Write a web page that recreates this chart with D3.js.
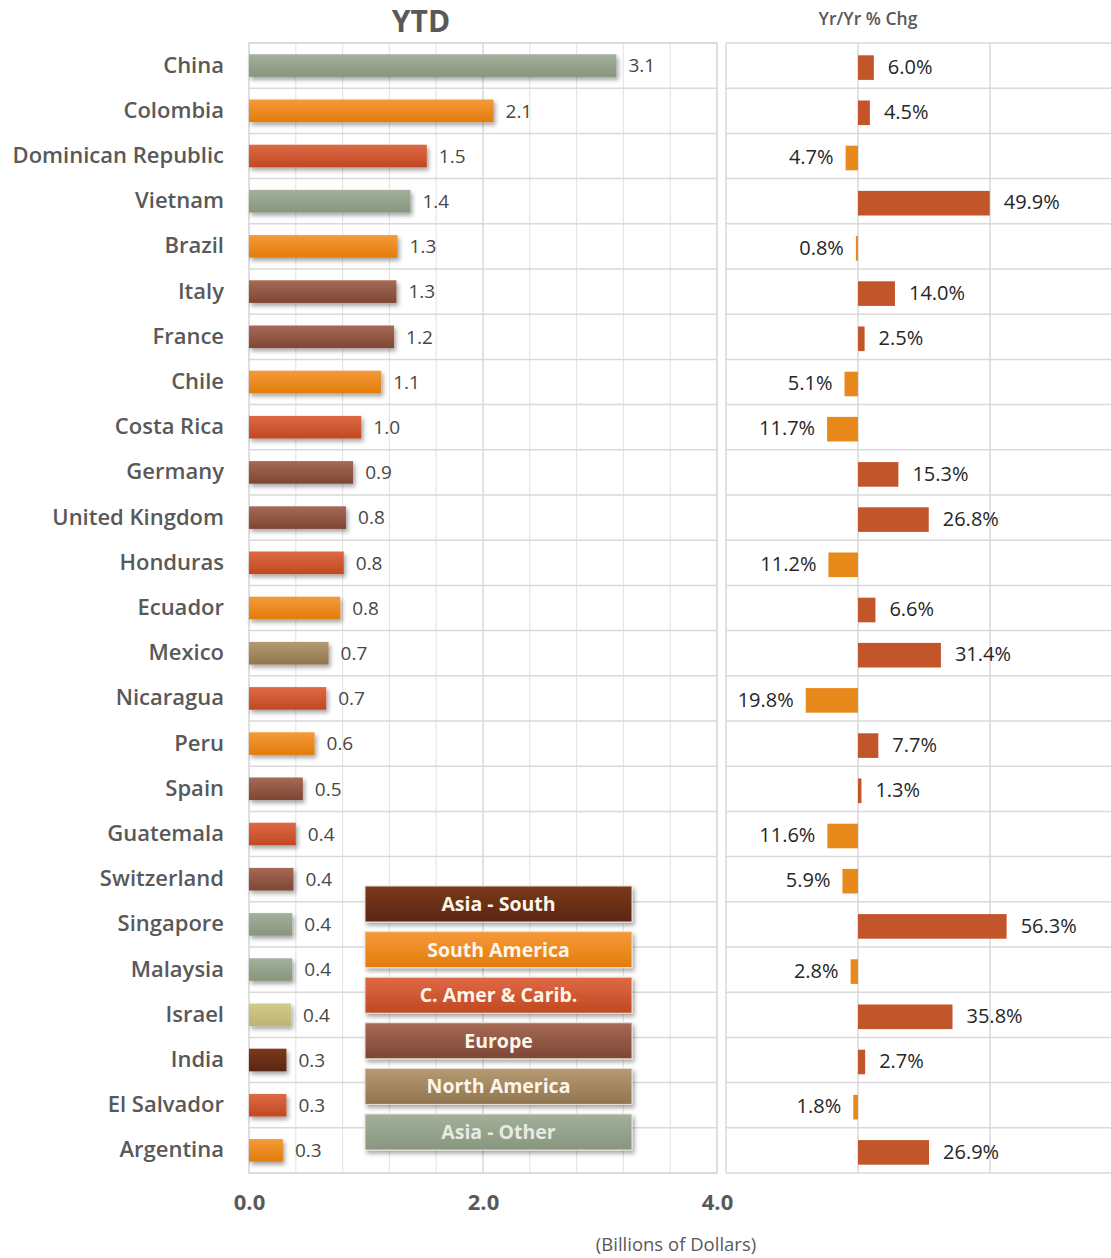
<!DOCTYPE html>
<html>
<head>
<meta charset="utf-8">
<script src="https://cdn.jsdelivr.net/npm/d3@7"></script>
<style>
  body { margin: 0; background: #fff; }
  svg { display: block; font-family: "Open Sans", sans-serif; }
</style>
</head>
<body>
<script>
// data
var countries = ["China", "Colombia", "Dominican Republic", "Vietnam", "Brazil", "Italy",
  "France", "Chile", "Costa Rica", "Germany", "United Kingdom", "Honduras", "Ecuador",
  "Mexico", "Nicaragua", "Peru", "Spain", "Guatemala", "Switzerland", "Singapore",
  "Malaysia", "Israel", "India", "El Salvador", "Argentina"];
var ytd = [3.14, 2.09, 1.52, 1.38, 1.27, 1.26, 1.24, 1.13, 0.96, 0.89, 0.83, 0.81, 0.78,
  0.68, 0.66, 0.56, 0.46, 0.40, 0.38, 0.37, 0.37, 0.36, 0.32, 0.32, 0.29];
var chg = [6.0, 4.5, -4.7, 49.9, -0.8, 14.0, 2.5, -5.1, -11.7, 15.3, 26.8, -11.2, 6.6,
  31.4, -19.8, 7.7, 1.3, -11.6, -5.9, 56.3, -2.8, 35.8, 2.7, -1.8, 26.9];
var regions = ["Asia - Other", "South America", "C. Amer & Carib.", "Asia - Other",
  "South America", "Europe", "Europe", "South America", "C. Amer & Carib.", "Europe",
  "Europe", "C. Amer & Carib.", "South America", "North America", "C. Amer & Carib.",
  "South America", "Europe", "C. Amer & Carib.", "Europe", "Asia - Other", "Asia - Other",
  "Middle East", "Asia - South", "C. Amer & Carib.", "South America"];
var xTicks = [0, 2, 4];

var legendNames = ["Asia - South", "South America", "C. Amer & Carib.", "Europe",
  "North America", "Asia - Other"];
var regionColors = {
  "Asia - South": ["#7a3a1c", "#5a2612"],
  "South America": ["#f59a38", "#e27c0c"],
  "C. Amer & Carib.": ["#de6a45", "#c04822"],
  "Europe": ["#a66a55", "#7e4634"],
  "North America": ["#b59a72", "#917550"],
  "Asia - Other": ["#a3b09b", "#87967f"],
  "Middle East": ["#d2ca8c", "#bcb46e"]
};
var legendText = {"Asia - Other": "#e6ebe2"};

var data = countries.map(function(c, i) {
  return {country: c, ytd: ytd[i], chg: chg[i], region: regions[i]};
});

var W = 1111, H = 1258;
var svg = d3.select("body").append("svg")
    .attr("width", W)
    .attr("height", H);

var defs = svg.append("defs");
var shadow = defs.append("filter").attr("id", "shadow")
    .attr("x", "-10%").attr("y", "-30%").attr("width", "130%").attr("height", "180%");
shadow.append("feDropShadow").attr("dx", 2).attr("dy", 3).attr("stdDeviation", 2)
    .attr("flood-color", "#000").attr("flood-opacity", 0.35);

Object.keys(regionColors).forEach(function(k, i) {
  var g = defs.append("linearGradient").attr("id", "grad" + i)
      .attr("x1", 0).attr("y1", 0).attr("x2", 0).attr("y2", 1);
  g.append("stop").attr("offset", "0%").attr("stop-color", regionColors[k][0]);
  g.append("stop").attr("offset", "100%").attr("stop-color", regionColors[k][1]);
  regionColors[k].id = "url(#grad" + i + ")";
});

// scales
var plotTop = 43, plotBottom = 1173;
var x = d3.scaleLinear().domain([0, 4]).range([249, 717]);
var xr = d3.scaleLinear().domain([-50, 100]).range([726, 1122]);
var y = d3.scaleBand().domain(countries).range([plotTop, plotBottom])
    .paddingInner(0.5).paddingOuter(0.25);
var step = y.step();

var grid = "#d9d9d9";

// left panel grid
var left = svg.append("g");
left.selectAll(".vg")
    .data(d3.range(0, 4.01, 0.4))
  .enter().append("line")
    .attr("x1", function(d) { return x(d); })
    .attr("x2", function(d) { return x(d); })
    .attr("y1", plotTop).attr("y2", plotBottom)
    .attr("stroke", function(d) { return Math.abs(d - 2) < 0.01 ? "#cfcfcf" : "#e6e6e6"; })
    .attr("stroke-width", 1.2);
left.selectAll(".hg")
    .data(d3.range(countries.length + 1))
  .enter().append("line")
    .attr("x1", x(0)).attr("x2", x(4))
    .attr("y1", function(i) { return plotTop + i * step; })
    .attr("y2", function(i) { return plotTop + i * step; })
    .attr("stroke", grid).attr("stroke-width", 1.5);
left.append("rect")
    .attr("x", x(0)).attr("y", plotTop)
    .attr("width", x(4) - x(0)).attr("height", plotBottom - plotTop)
    .attr("fill", "none").attr("stroke", grid).attr("stroke-width", 1.5);

// right panel grid
var right = svg.append("g");
right.selectAll(".hg")
    .data(d3.range(countries.length + 1))
  .enter().append("line")
    .attr("x1", xr(-50)).attr("x2", W)
    .attr("y1", function(i) { return plotTop + i * step; })
    .attr("y2", function(i) { return plotTop + i * step; })
    .attr("stroke", grid).attr("stroke-width", 1.5);
right.selectAll(".vg")
    .data([-50, 0, 50])
  .enter().append("line")
    .attr("x1", function(d) { return xr(d); })
    .attr("x2", function(d) { return xr(d); })
    .attr("y1", plotTop).attr("y2", plotBottom)
    .attr("stroke", grid).attr("stroke-width", 1.5);

// YTD bars
left.selectAll(".bar")
    .data(data)
  .enter().append("rect")
    .attr("class", "bar")
    .attr("x", x(0))
    .attr("y", function(d) { return y(d.country); })
    .attr("width", function(d) { return x(d.ytd) - x(0); })
    .attr("height", y.bandwidth())
    .attr("fill", function(d) { return regionColors[d.region].id; })
    .attr("filter", "url(#shadow)");

left.selectAll(".lbl")
    .data(data)
  .enter().append("text")
    .attr("x", function(d) { return x(d.ytd) + 12; })
    .attr("y", function(d) { return y(d.country) + y.bandwidth() / 2; })
    .attr("dy", "0.36em")
    .attr("font-size", 19)
    .attr("fill", "#474747")
    .text(function(d) { return d3.format(".1f")(d.ytd); });

// % change bars
right.selectAll(".bar2")
    .data(data)
  .enter().append("rect")
    .attr("x", function(d) { return xr(Math.min(0, d.chg)); })
    .attr("y", function(d) { return y(d.country) + 1; })
    .attr("width", function(d) { return Math.abs(xr(d.chg) - xr(0)); })
    .attr("height", y.bandwidth() + 2)
    .attr("fill", function(d) { return d.chg < 0 ? "#e8891c" : "#c3552b"; });

right.selectAll(".lbl2")
    .data(data)
  .enter().append("text")
    .attr("x", function(d) { return d.chg < 0 ? xr(d.chg) - 12 : xr(d.chg) + 14; })
    .attr("y", function(d) { return y(d.country) + y.bandwidth() / 2 + 1; })
    .attr("dy", "0.36em")
    .attr("text-anchor", function(d) { return d.chg < 0 ? "end" : "start"; })
    .attr("font-size", 20)
    .attr("fill", "#262626")
    .text(function(d) { return d3.format(".1f")(Math.abs(d.chg)) + "%"; });

// axes
var yAxis = svg.append("g")
    .attr("transform", "translate(" + x(0) + ",0)")
    .call(d3.axisLeft(y).tickSize(0).tickPadding(25));
yAxis.select(".domain").remove();
yAxis.selectAll("text")
    .attr("font-family", "Open Sans, sans-serif")
    .attr("font-size", 22).attr("font-weight", 600).attr("fill", "#595959");

var xAxis = svg.append("g")
    .attr("transform", "translate(0," + plotBottom + ")")
    .call(d3.axisBottom(x).tickValues(xTicks).tickFormat(d3.format(".1f"))
      .tickSize(0).tickPadding(21));
xAxis.select(".domain").remove();
xAxis.selectAll("text")
    .attr("font-family", "Open Sans, sans-serif")
    .attr("font-size", 22).attr("font-weight", 700).attr("fill", "#595959");

// titles
svg.append("text")
    .attr("x", 421).attr("y", 32)
    .attr("text-anchor", "middle")
    .attr("font-size", 30).attr("font-weight", 700).attr("fill", "#595959")
    .text("YTD");
svg.append("text")
    .attr("x", 868).attr("y", 25)
    .attr("text-anchor", "middle")
    .attr("font-size", 17.5).attr("font-weight", 600).attr("fill", "#595959")
    .text("Yr/Yr % Chg");
svg.append("text")
    .attr("x", 676).attr("y", 1251)
    .attr("text-anchor", "middle")
    .attr("font-size", 18.5).attr("fill", "#595959")
    .text("(Billions of Dollars)");

// legend
var legend = svg.append("g").attr("transform", "translate(365,886)");
var item = legend.selectAll(".item")
    .data(legendNames)
  .enter().append("g")
    .attr("transform", function(d, i) { return "translate(0," + (i * 45.6) + ")"; });
item.append("rect")
    .attr("width", 267).attr("height", 36)
    .attr("fill", function(d) { return regionColors[d].id; })
    .attr("stroke", "#e8e0da").attr("stroke-width", 1)
    .attr("filter", "url(#shadow)");
item.append("text")
    .attr("x", 133.5).attr("y", 18)
    .attr("dy", "0.36em")
    .attr("text-anchor", "middle")
    .attr("font-size", 19.5).attr("font-weight", 700)
    .attr("fill", function(d) { return legendText[d] || "#fff5ea"; })
    .text(function(d) { return d; });
</script>
</body>
</html>
